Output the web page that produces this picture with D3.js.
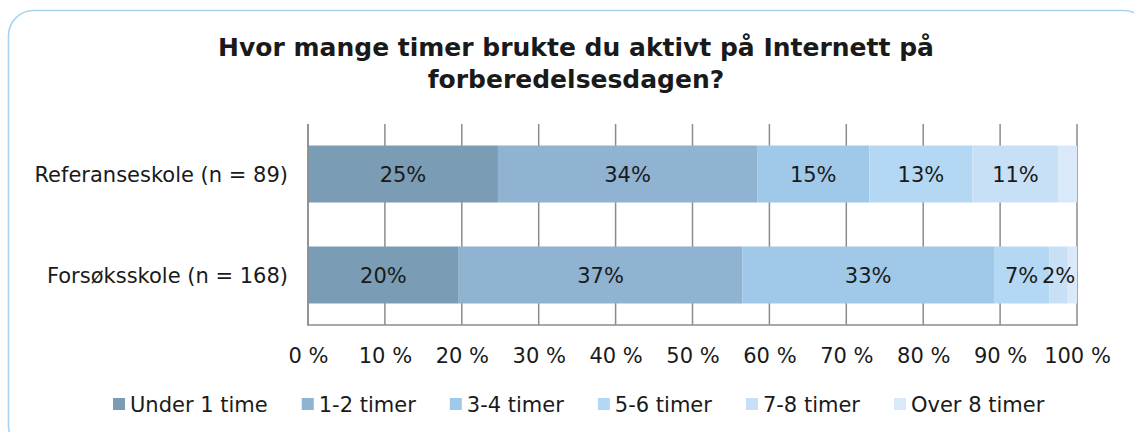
<!DOCTYPE html>
<html>
<head>
<meta charset="utf-8">
<script src="https://cdn.jsdelivr.net/npm/d3@7"></script>
<style>
html,body{margin:0;padding:0;background:#fff;}
svg{display:block;}
text{font-family:"DejaVu Sans",Verdana,sans-serif;fill:#1a1a1a;}
</style>
</head>
<body>
<svg id="chart" width="1134" height="432"></svg>
<script>
const titleLines = ["Hvor mange timer brukte du aktivt på Internett på", "forberedelsesdagen?"];
const categories = ["Referanseskole (n = 89)", "Forsøksskole (n = 168)"];
const seriesNames = ["Under 1 time", "1-2 timer", "3-4 timer", "5-6 timer", "7-8 timer", "Over 8 timer"];
const referanseValues = [24.7, 33.7, 14.6, 13.4, 11.2, 2.4];
const forsoksValues = [19.6, 36.9, 32.7, 7.2, 2.4, 1.2];
const dataLabels = [
  ["25%", "34%", "15%", "13%", "11%", ""],
  ["20%", "37%", "33%", "7%", "2%", ""]
];
const tickValues = [0, 10, 20, 30, 40, 50, 60, 70, 80, 90, 100];
const tickLabels = ["0 %", "10 %", "20 %", "30 %", "40 %", "50 %", "60 %", "70 %", "80 %", "90 %", "100 %"];
const colors = ["#7b9cb5", "#8fb3d0", "#9fc8e9", "#b4d8f3", "#c7e0f6", "#dae9f9"];

const svg = d3.select("#chart");

// chart border
svg.append("rect")
  .attr("x", 8.5).attr("y", 10.5)
  .attr("width", 1140).attr("height", 440)
  .attr("rx", 25).attr("ry", 25)
  .attr("fill", "#fff")
  .attr("stroke", "#a9d3f2").attr("stroke-width", 1.6);

// title
svg.append("text")
  .attr("x", 576).attr("y", 56)
  .attr("text-anchor", "middle")
  .style("font-weight", "bold").style("font-size", "25px")
  .selectAll("tspan").data(titleLines).join("tspan")
  .attr("x", 576).attr("dy", (d, i) => i === 0 ? 0 : 32)
  .text(d => d);

const x = d3.scaleLinear().domain([0, 100]).range([308, 1077]);
const y = d3.scaleBand().domain(categories).range([124, 325]).paddingInner(0.4356).paddingOuter(0.213);

const rows = [referanseValues, forsoksValues].map((vals, ci) => {
  let acc = 0;
  return vals.map((v, si) => {
    const s = {cat: categories[ci], series: si, x0: acc, x1: acc + v, label: dataLabels[ci][si]};
    acc += v;
    return s;
  });
});

// gridlines
svg.append("g").selectAll("line").data(tickValues).join("line")
  .attr("x1", d => x(d)).attr("x2", d => x(d))
  .attr("y1", 124).attr("y2", 325)
  .attr("stroke", "#8c8c8c").attr("stroke-width", 1.5);

// bars
const segs = rows.flat();
svg.append("g").selectAll("rect").data(segs).join("rect")
  .attr("x", d => x(d.x0))
  .attr("width", d => x(d.x1) - x(d.x0))
  .attr("y", d => y(d.cat))
  .attr("height", y.bandwidth())
  .attr("fill", d => colors[d.series]);

// data labels
svg.append("g").selectAll("text").data(segs.filter(d => d.label)).join("text")
  .attr("x", d => (x(d.x0) + x(d.x1)) / 2)
  .attr("y", d => y(d.cat) + y.bandwidth() / 2)
  .attr("dy", "0.36em")
  .attr("text-anchor", "middle")
  .style("font-size", "21px")
  .text(d => d.label);

// axes lines
svg.append("line").attr("x1", 308).attr("x2", 308).attr("y1", 124).attr("y2", 325)
  .attr("stroke", "#8c8c8c").attr("stroke-width", 1.5);
svg.append("line").attr("x1", 307).attr("x2", 1078).attr("y1", 325).attr("y2", 325)
  .attr("stroke", "#8c8c8c").attr("stroke-width", 1.5);

// x tick labels
const xAxis = d3.axisBottom(x).tickValues(tickValues).tickSize(0).tickPadding(0)
  .tickFormat((d, i) => tickLabels[i]);
const gx = svg.append("g").attr("transform", "translate(0,355)").call(xAxis);
gx.select(".domain").remove();
gx.selectAll("text").attr("dy", "0.36em").attr("y", 0)
  .style("font-size", "21px").style("font-family", "'DejaVu Sans', Verdana, sans-serif").attr("fill", "#1a1a1a");

// category labels
svg.append("g").selectAll("text").data(categories).join("text")
  .attr("x", 288)
  .attr("y", d => y(d) + y.bandwidth() / 2)
  .attr("dy", "0.36em")
  .attr("text-anchor", "end")
  .style("font-size", "21px")
  .text(d => d);

// legend
const lg = svg.append("g");
let lx = 113;
seriesNames.forEach((name, i) => {
  const g = lg.append("g").attr("transform", `translate(${lx},0)`);
  g.append("rect").attr("x", 0).attr("y", 398).attr("width", 12).attr("height", 12).attr("fill", colors[i]);
  const t = g.append("text").attr("x", 17).attr("y", 404).attr("dy", "0.36em")
    .style("font-size", "21px").text(name);
  lx += 17 + t.node().getComputedTextLength() + 34;
});
</script>
</body>
</html>
